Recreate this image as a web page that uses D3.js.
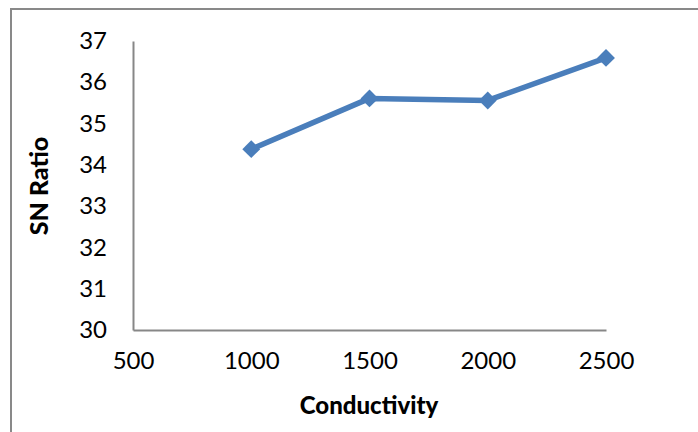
<!DOCTYPE html>
<html><head><meta charset="utf-8">
<script src="https://cdn.jsdelivr.net/npm/d3@7"></script>
<style>body{margin:0;background:#fff}svg{display:block}</style>
</head><body>
<script>
const conductivity = [1000, 1500, 2000, 2500];
const snRatio = [34.38, 35.61, 35.56, 36.59];
const xTicks = [500, 1000, 1500, 2000, 2500];
const yTicks = [30, 31, 32, 33, 34, 35, 36, 37];

const W = 698, H = 432;
const svg = d3.select("body").append("svg").attr("width", W).attr("height", H);
svg.append("rect").attr("x", 11).attr("y", 9).attr("width", 720).attr("height", 460)
  .attr("fill", "none").attr("stroke", "#898989").attr("stroke-width", 2);

const x = d3.scaleLinear().domain([500, 2500]).range([133, 606]);
const y = d3.scaleLinear().domain([30, 37]).range([330, 41]);
const font = "Lato, 'Open Sans', sans-serif";

// y axis
const ya = svg.append("g").attr("transform", `translate(${x(500)},0)`)
  .call(d3.axisLeft(y).tickValues(yTicks).tickSize(0).tickPadding(26).tickFormat(d3.format("d")));
ya.select(".domain").attr("stroke", "#878787").attr("stroke-width", 2);
ya.selectAll("text").attr("font-family", font).attr("font-size", 24).attr("fill", "#000");

// x axis
const xa = svg.append("g").attr("transform", `translate(0,${y(30)})`)
  .call(d3.axisBottom(x).tickValues(xTicks).tickSize(0).tickPadding(22).tickFormat(d3.format("d")));
xa.select(".domain").attr("stroke", "#878787").attr("stroke-width", 2);
xa.selectAll("text").attr("font-family", font).attr("font-size", 24).attr("fill", "#000");

// titles
svg.append("text").attr("x", 369).attr("y", 414).attr("text-anchor", "middle")
  .attr("font-family", font).attr("font-weight", "900").attr("font-size", 24).text("Conductivity");
svg.append("text").attr("transform", `translate(48,186) rotate(-90)`).attr("text-anchor", "middle")
  .attr("font-family", font).attr("font-weight", "900").attr("font-size", 25).text("SN Ratio");

const data = conductivity.map((c, i) => ({c, v: snRatio[i]}));
svg.append("path").datum(data)
  .attr("d", d3.line().x(d => x(d.c)).y(d => y(d.v)))
  .attr("fill", "none").attr("stroke", "#4a7ebb").attr("stroke-width", 5.5).attr("stroke-linejoin", "round");
svg.selectAll(".pt").data(data).enter().append("path")
  .attr("transform", d => `translate(${x(d.c)},${y(d.v)}) rotate(45)`)
  .attr("d", d3.symbol().type(d3.symbolSquare).size(160))
  .attr("fill", "#4a7ebb");
</script>
</body></html>
